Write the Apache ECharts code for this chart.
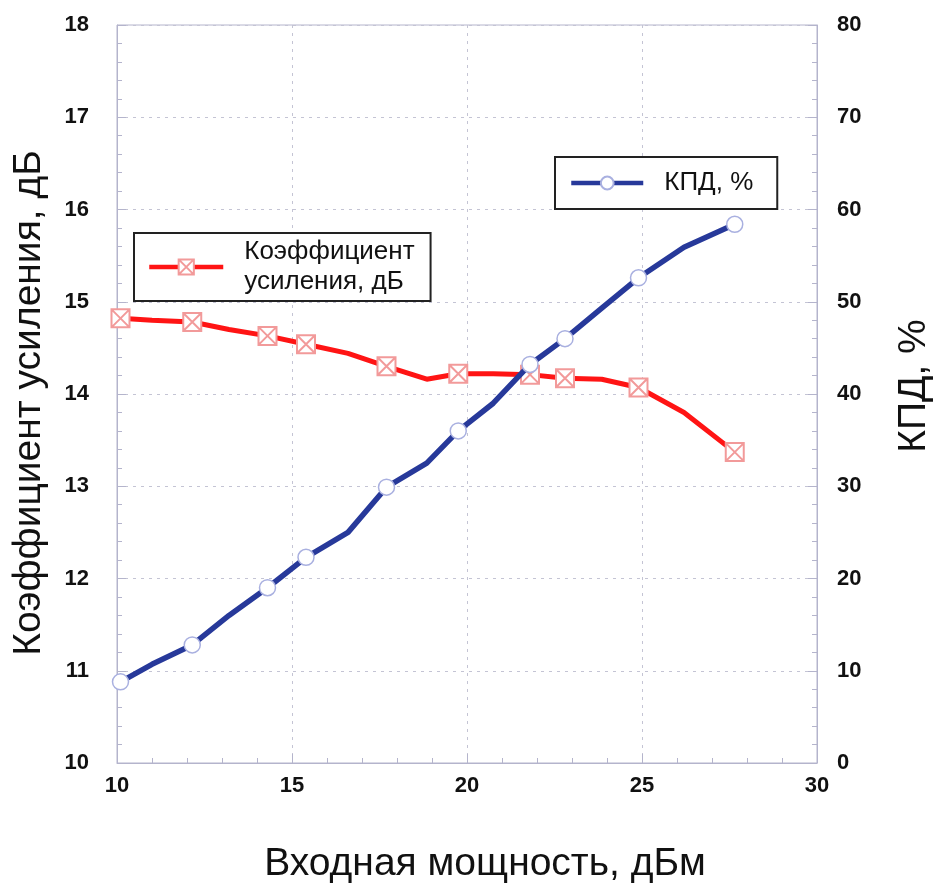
<!DOCTYPE html>
<html>
<head>
<meta charset="utf-8">
<script src="https://cdn.jsdelivr.net/npm/echarts@6/dist/echarts.min.js"></script>
<style>
  html, body { margin: 0; padding: 0; background: #fff; }
  #main { width: 936px; height: 889px; }
</style>
</head>
<body>
<div id="main"></div>
<script>
// input power, dBm
const inputPower = [10.1, 11.0, 12.15, 13.2, 14.3, 15.4, 16.6, 17.7, 18.85, 19.75, 20.75, 21.8, 22.8, 23.85, 24.9, 26.2, 27.65];
// gain, dB (left axis)
const gainDb = [14.82, 14.80, 14.78, 14.70, 14.63, 14.54, 14.44, 14.30, 14.16, 14.22, 14.22, 14.21, 14.17, 14.16, 14.07, 13.80, 13.37];
// efficiency, % (right axis)
const efficiency = [8.8, 10.7, 12.8, 16.0, 19.0, 22.3, 25.0, 29.9, 32.5, 36.0, 39.0, 43.2, 46.0, 49.3, 52.6, 55.9, 58.4];
// which points carry a marker
const hasMarker = [1, 0, 1, 0, 1, 1, 0, 1, 0, 1, 0, 1, 1, 0, 1, 0, 1];

const gainName = 'Коэффициент\nусиления, дБ';
const effName = 'КПД, %';

const font = '"Liberation Sans", Arial, sans-serif';
const frameColor = '#b4b4cc';
const crossBox = 'path://M0,0H10V10H0Z M0,0L10,10 M10,0L0,10';

function toPoints(values) {
  return inputPower.map((x, i) => (hasMarker[i] ? [x, values[i]] : { value: [x, values[i]], symbol: 'none' }));
}

const chart = echarts.init(document.getElementById('main'), null, { renderer: 'canvas' });

const tickLabel = { color: '#111', fontSize: 22, fontWeight: 'bold', fontFamily: font };
const axisName = { color: '#111', fontSize: 39, fontFamily: font };

chart.setOption({
  animation: false,
  grid: {
    left: 117,
    right: 119,
    top: 25,
    bottom: 126,
    outerBoundsMode: 'none',
    show: true,
    borderColor: frameColor,
    borderWidth: 1
  },
  legend: [
    {
      data: [gainName],
      left: 134,
      top: 233,
      orient: 'vertical',
      padding: [4, 16, 4, 13],
      itemWidth: 74,
      itemHeight: 19,
      backgroundColor: '#fff',
      borderColor: '#222',
      borderWidth: 2,
      lineStyle: { width: 4.5 },
      textStyle: { color: '#111', fontSize: 26, lineHeight: 30, fontFamily: font, padding: [0, 0, 0, 16] }
    },
    {
      data: [effName],
      left: 555,
      top: 157,
      orient: 'vertical',
      padding: [13, 24, 13, 14],
      itemWidth: 72,
      itemHeight: 16,
      backgroundColor: '#fff',
      borderColor: '#222',
      borderWidth: 2,
      lineStyle: { width: 4.5 },
      textStyle: { color: '#111', fontSize: 26, fontFamily: font, padding: [0, 0, 0, 16] }
    }
  ],
  xAxis: {
    type: 'value',
    min: 10,
    max: 30,
    interval: 5,
    name: 'Входная мощность, дБм',
    nameLocation: 'middle',
    nameGap: 82,
    nameTextStyle: Object.assign({ padding: [0, 0, 0, 36] }, axisName),
    axisLine: { lineStyle: { color: frameColor } },
    axisTick: { inside: true, length: 9, lineStyle: { color: frameColor } },
    minorTick: { show: true, splitNumber: 5, length: 5, lineStyle: { color: frameColor } },
    axisLabel: Object.assign({ margin: 12 }, tickLabel),
    splitLine: { show: true, lineStyle: { color: '#c4c4d4', type: [3, 5] } }
  },
  yAxis: [
    {
      type: 'value',
      min: 10,
      max: 18,
      interval: 1,
      name: 'Коэффициент усиления, дБ',
      nameLocation: 'middle',
      nameGap: 68,
      nameTextStyle: Object.assign({ padding: [0, 18, 0, 0] }, axisName),
      axisLine: { show: true, lineStyle: { color: frameColor } },
      axisTick: { show: true, inside: true, length: 9, lineStyle: { color: frameColor } },
      minorTick: { show: true, splitNumber: 5, length: 5, lineStyle: { color: frameColor } },
      axisLabel: Object.assign({ margin: 28 }, tickLabel),
      splitLine: { show: true, lineStyle: { color: '#c4c4d4', type: [3, 5] } }
    },
    {
      type: 'value',
      min: 0,
      max: 80,
      interval: 10,
      position: 'right',
      name: 'КПД, %',
      nameLocation: 'middle',
      nameGap: 78,
      nameTextStyle: Object.assign({ padding: [0, 0, 0, 16] }, axisName),
      axisLine: { show: true, lineStyle: { color: frameColor } },
      axisTick: { show: true, inside: true, length: 9, lineStyle: { color: frameColor } },
      minorTick: { show: true, splitNumber: 5, length: 5, lineStyle: { color: frameColor } },
      axisLabel: Object.assign({ margin: 20 }, tickLabel),
      splitLine: { show: false }
    }
  ],
  series: [
    {
      name: gainName,
      type: 'line',
      yAxisIndex: 0,
      data: toPoints(gainDb),
      symbol: crossBox,
      symbolSize: 18,
      lineStyle: { color: '#ff1414', width: 5 },
      itemStyle: { color: '#fff', borderColor: '#f29a9a', borderWidth: 2 },
      z: 3
    },
    {
      name: effName,
      type: 'line',
      yAxisIndex: 1,
      data: toPoints(efficiency),
      symbol: 'circle',
      symbolSize: 16,
      lineStyle: { color: '#27399a', width: 5.5 },
      itemStyle: { color: '#fff', borderColor: '#a9b0e0', borderWidth: 1.5 },
      z: 4
    }
  ]
});
</script>
</body>
</html>
